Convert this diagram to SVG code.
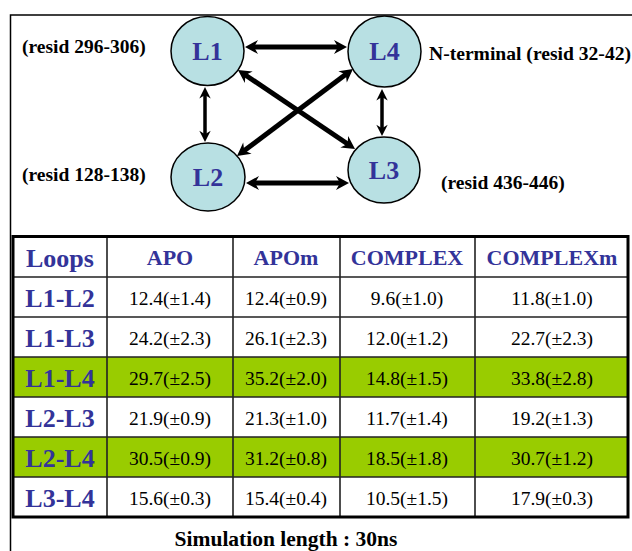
<svg xmlns="http://www.w3.org/2000/svg" width="632" height="551" viewBox="0 0 632 551">
<defs>
<marker id="ah" viewBox="-6 -8 16 16" refX="0" refY="0" markerWidth="16" markerHeight="16" markerUnits="userSpaceOnUse" orient="auto-start-reverse">
<path d="M8,0 L-5,-7 L-1,0 L-5,7 Z" fill="#000"/>
</marker>
<marker id="ahs" viewBox="-6 -8 16 16" refX="0" refY="0" markerWidth="14" markerHeight="14" markerUnits="userSpaceOnUse" orient="auto-start-reverse">
<path d="M8,0 L-5,-6.5 L-1,0 L-5,6.5 Z" fill="#000"/>
</marker>
</defs>
<style>
.node ellipse{fill:#b8e0e3;stroke:#000;stroke-width:1.5}
.nl{font-family:"Liberation Serif","Times New Roman",serif;font-weight:bold;font-size:26px;fill:#333399;text-anchor:middle}
.res{font-family:"Liberation Serif","Times New Roman",serif;font-weight:bold;font-size:19.5px;fill:#000}
.con{fill:none;stroke:#000;stroke-width:5;marker-start:url(#ah);marker-end:url(#ah)}
.conv{fill:none;stroke:#000;stroke-width:3.5;marker-start:url(#ahs);marker-end:url(#ahs)}
.hd{font-family:"Liberation Serif","Times New Roman",serif;font-weight:bold;font-size:22px;fill:#333399;text-anchor:middle}
.rl{font-family:"Liberation Serif","Times New Roman",serif;font-weight:bold;font-size:26px;fill:#333399;text-anchor:middle}
.d{font-family:"Liberation Serif","Times New Roman",serif;font-size:19.5px;fill:#000;text-anchor:middle}
.grid{stroke:#222;stroke-width:1.6;fill:none}
.green{fill:#99cc00}
</style>
<rect x="0" y="0" width="632" height="551" fill="#fff"/>
<!-- outer frame -->
<path d="M10.5,560 V15 H640" fill="none" stroke="#000" stroke-width="1.5"/>

<g id="connectors">
<path class="con" d="M253,47 H339"/>
<path class="conv" d="M205,94 V135"/>
<path class="conv" d="M382,96 V129"/>
<path class="con" d="M254,183 H341"/>
<path class="con" d="M244.6,74.5 L348.4,144.5"/>
<path class="con" d="M346.6,73.8 L243.4,151.2"/>
</g>

<g id="L1" class="node"><ellipse cx="207.5" cy="51" rx="36.5" ry="34.5"/><text class="nl" x="207.5" y="60">L1</text></g>
<g id="L4" class="node"><ellipse cx="384.5" cy="51.5" rx="36.5" ry="35.5"/><text class="nl" x="384.5" y="60">L4</text></g>
<g id="L2" class="node"><ellipse cx="208" cy="177" rx="37" ry="34"/><text class="nl" x="208" y="186">L2</text></g>
<g id="L3" class="node"><ellipse cx="384" cy="170" rx="36" ry="33"/><text class="nl" x="384" y="179">L3</text></g>

<g id="labels">
<text class="res" x="22" y="53">(resid 296-306)</text>
<text class="res" x="429" y="60" textLength="202" lengthAdjust="spacingAndGlyphs">N-terminal (resid 32-42)</text>
<text class="res" x="22" y="181">(resid 128-138)</text>
<text class="res" x="441" y="189">(resid 436-446)</text>
</g>

<g id="table">
<rect class="green" x="13" y="357" width="615" height="40"/>
<rect class="green" x="13" y="437" width="615" height="40"/>
<path class="grid" d="M13,277 H628 M13,317 H628 M13,357 H628 M13,397 H628 M13,437 H628 M13,477 H628 M107,236 V517 M233,236 V517 M340,236 V517 M475,236 V517"/>
<rect x="13" y="236.5" width="615" height="280.5" fill="none" stroke="#000" stroke-width="3"/>
<text class="rl" x="60" y="267">Loops</text>
<text class="hd" x="170" y="265">APO</text>
<text class="hd" x="286" y="265">APOm</text>
<text class="hd" x="407" y="265">COMPLEX</text>
<text class="hd" x="552" y="265">COMPLEXm</text>

<text class="rl" x="60" y="307">L1-L2</text>
<text class="d" x="170" y="305">12.4(±1.4)</text>
<text class="d" x="286" y="305">12.4(±0.9)</text>
<text class="d" x="407" y="305">9.6(±1.0)</text>
<text class="d" x="552" y="305">11.8(±1.0)</text>

<text class="rl" x="60" y="347">L1-L3</text>
<text class="d" x="170" y="345">24.2(±2.3)</text>
<text class="d" x="286" y="345">26.1(±2.3)</text>
<text class="d" x="407" y="345">12.0(±1.2)</text>
<text class="d" x="552" y="345">22.7(±2.3)</text>

<text class="rl" x="60" y="387">L1-L4</text>
<text class="d" x="170" y="385">29.7(±2.5)</text>
<text class="d" x="286" y="385">35.2(±2.0)</text>
<text class="d" x="407" y="385">14.8(±1.5)</text>
<text class="d" x="552" y="385">33.8(±2.8)</text>

<text class="rl" x="60" y="427">L2-L3</text>
<text class="d" x="170" y="425">21.9(±0.9)</text>
<text class="d" x="286" y="425">21.3(±1.0)</text>
<text class="d" x="407" y="425">11.7(±1.4)</text>
<text class="d" x="552" y="425">19.2(±1.3)</text>

<text class="rl" x="60" y="467">L2-L4</text>
<text class="d" x="170" y="465">30.5(±0.9)</text>
<text class="d" x="286" y="465">31.2(±0.8)</text>
<text class="d" x="407" y="465">18.5(±1.8)</text>
<text class="d" x="552" y="465">30.7(±1.2)</text>

<text class="rl" x="60" y="507">L3-L4</text>
<text class="d" x="170" y="505">15.6(±0.3)</text>
<text class="d" x="286" y="505">15.4(±0.4)</text>
<text class="d" x="407" y="505">10.5(±1.5)</text>
<text class="d" x="552" y="505">17.9(±0.3)</text>
</g>

<text id="caption" x="286" y="546" font-family="'Liberation Serif','Times New Roman',serif" font-weight="bold" font-size="21.5" text-anchor="middle" fill="#000">Simulation length : 30ns</text>
</svg>
